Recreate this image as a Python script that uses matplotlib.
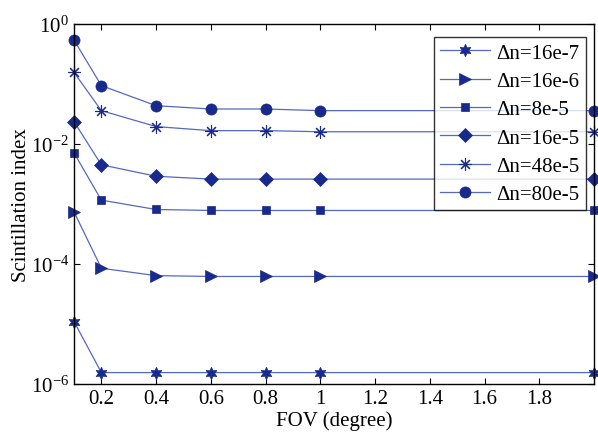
import matplotlib
matplotlib.use("Agg")
import matplotlib.pyplot as plt
from matplotlib.ticker import FixedLocator, LogFormatterMathtext

plt.rcParams['font.family'] = ['Liberation Serif', 'DejaVu Serif']
plt.rcParams['mathtext.fontset'] = 'custom'
plt.rcParams['mathtext.rm'] = 'Liberation Serif'
plt.rcParams['mathtext.it'] = 'Liberation Serif:italic'

fov = [0.1, 0.2, 0.4, 0.6, 0.8, 1.0, 2.0]
si_16e7 = [1.1e-5, 1.55e-6, 1.55e-6, 1.55e-6, 1.55e-6, 1.55e-6, 1.55e-6]
si_16e6 = [7.4e-4, 8.5e-5, 6.4e-5, 6.2e-5, 6.2e-5, 6.2e-5, 6.2e-5]
si_8e5 = [7.1e-3, 1.16e-3, 8.1e-4, 7.8e-4, 7.8e-4, 7.8e-4, 7.8e-4]
si_16e5 = [2.36e-2, 4.5e-3, 2.9e-3, 2.6e-3, 2.6e-3, 2.6e-3, 2.6e-3]
si_48e5 = [0.156, 0.036, 0.0195, 0.0167, 0.0167, 0.016, 0.016]
si_80e5 = [0.54, 0.094, 0.0435, 0.0383, 0.0383, 0.036, 0.036]
labels = ['Δn=16e-7', 'Δn=16e-6', 'Δn=8e-5', 'Δn=16e-5', 'Δn=48e-5', 'Δn=80e-5']
xticks = [0.2, 0.4, 0.6, 0.8, 1.0, 1.2, 1.4, 1.6, 1.8]
xticklabels = ['0.2', '0.4', '0.6', '0.8', '1', '1.2', '1.4', '1.6', '1.8']

mcol = '#182A8C'
lcol = '#5468C4'

fig = plt.figure(figsize=(5.98, 4.39), dpi=100)
ax = fig.add_axes([74/598, 54/439, 520/598, 360/439])

series = [si_16e7, si_16e6, si_8e5, si_16e5, si_48e5, si_80e5]
markers = [(6, 1, 0), '>', 's', 'D', (8, 2, 0), 'o']
msizes = [9, 8, 6, 7, 9, 8]
for ys, lab, mk, ms in zip(series, labels, markers, msizes):
    ax.plot(fov, ys, color=lcol, linewidth=0.9, marker=mk, markersize=ms,
            markerfacecolor=mcol, markeredgecolor=mcol,
            markeredgewidth=0.8 if mk == (8, 2, 0) else 0.5, label=lab, clip_on=False)

ax.set_yscale('log')
ax.set_ylim(1e-6, 1e0)
ax.set_xlim(0.1, 2.0)
ax.yaxis.set_major_locator(FixedLocator([1e-6, 1e-4, 1e-2, 1e0]))
ax.yaxis.set_minor_locator(FixedLocator([]))
ax.yaxis.set_major_formatter(LogFormatterMathtext())
ax.set_xticks(xticks)
ax.set_xticklabels(xticklabels)
ax.tick_params(axis='both', which='both', direction='in', top=True, right=True,
               labelsize=15, length=4, width=0.8)
for s in ax.spines.values():
    s.set_linewidth(1.0)
ax.set_xlabel('FOV (degree)', fontsize=15, labelpad=2)
ax.set_ylabel('Scintillation index', fontsize=15, labelpad=0)

leg = ax.legend(loc='upper right', fontsize=15, frameon=True, fancybox=False,
                edgecolor='black', handlelength=2.4, borderpad=0.3, labelspacing=0.42,
                handletextpad=0.3, borderaxespad=0)
leg.get_frame().set_linewidth(1.0)
leg.set_bbox_to_anchor((586/598, (439 - 37.7)/439), transform=fig.transFigure)

fig.savefig('out.png', dpi=100)
